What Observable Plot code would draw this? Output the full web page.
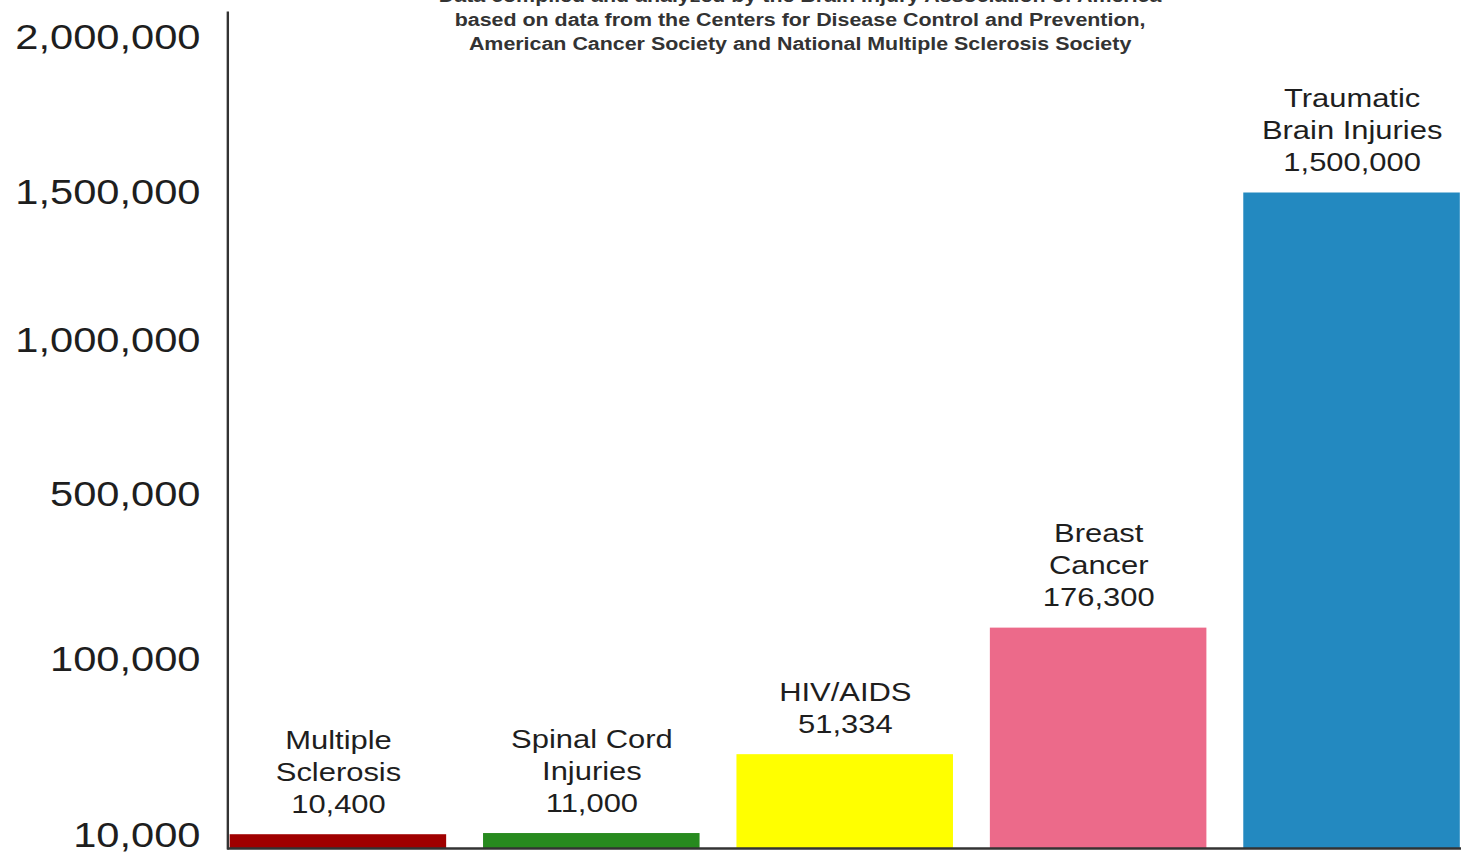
<!DOCTYPE html>
<html><head><meta charset="utf-8">
<script src="https://cdn.jsdelivr.net/npm/d3@7"></script>
<script src="https://cdn.jsdelivr.net/npm/@observablehq/plot@0.6"></script>
<style>html,body{margin:0;padding:0;background:#fff;overflow:hidden}#chart svg{display:block}</style>
</head><body><div id="chart"></div>
<script>
const categories = ["Multiple\nSclerosis", "Spinal Cord\nInjuries", "HIV/AIDS", "Breast\nCancer", "Traumatic\nBrain Injuries"];
const values = [10400, 11000, 51334, 176300, 1500000];
const colors = ["#a00000", "#278a1f", "#ffff00", "#ec6a8a", "#2389c0"];
const yTicks = [10000, 100000, 500000, 1000000, 1500000, 2000000];
const subtitleLines = [
  "Data compiled and analyzed by the Brain Injury Association of America",
  "based on data from the Centers for Disease Control and Prevention,",
  "American Cancer Society and National Multiple Sclerosis Society"
];

const data = categories.map((c, i) => ({category: c, value: values[i], color: colors[i]}));
const fmt = d3.format(",");
const W = 1228, H = 854, OUT_W = 1461;

const chart = Plot.plot({
  width: W, height: H,
  marginLeft: 191, marginRight: 0, marginTop: 12, marginBottom: 6,
  style: {fontFamily: "'Liberation Sans', Arial, sans-serif", background: "#fff", color: "#222"},
  x: {domain: categories, range: [192.5, 1227.5], paddingInner: 0.146, paddingOuter: 0, axis: null},
  y: {type: "linear", domain: [0, ...yTicks], range: [848, 835, 659, 494.5, 340.5, 192.5, 37.5], axis: null},
  color: {type: "identity"},
  marks: [
    Plot.barY(data, {x: "category", y: "value", fill: "color"}),
    Plot.ruleY([0], {stroke: "#333", strokeWidth: 2.5}),
    Plot.frame({anchor: "left", stroke: "#333", strokeWidth: 2}),
    Plot.axisY(yTicks, {anchor: "left", tickSize: 0, tickPadding: 23, fontSize: 35, tickFormat: fmt, label: null, color: "#1e1e1e"}),
    Plot.text(data, {x: "category", y: "value", text: d => d.category + "\n" + fmt(d.value),
      lineAnchor: "bottom", dy: -22, fontSize: 26, lineHeight: 1.23, fill: "#1e1e1e"}),
    Plot.text([subtitleLines.join("\n")], {frameAnchor: "top-left", dx: 481, dy: -27, lineAnchor: "top",
      textAnchor: "middle", fontSize: 18, fontWeight: "bold", lineHeight: 1.33, fill: "#333"})
  ]
});

// the reference image is horizontally stretched; reproduce that stretch
chart.setAttribute("width", OUT_W);
chart.setAttribute("preserveAspectRatio", "none");
chart.style.width = OUT_W + "px";
chart.style.height = H + "px";
chart.style.maxWidth = "none";
document.getElementById("chart").appendChild(chart);
</script>
</body></html>
